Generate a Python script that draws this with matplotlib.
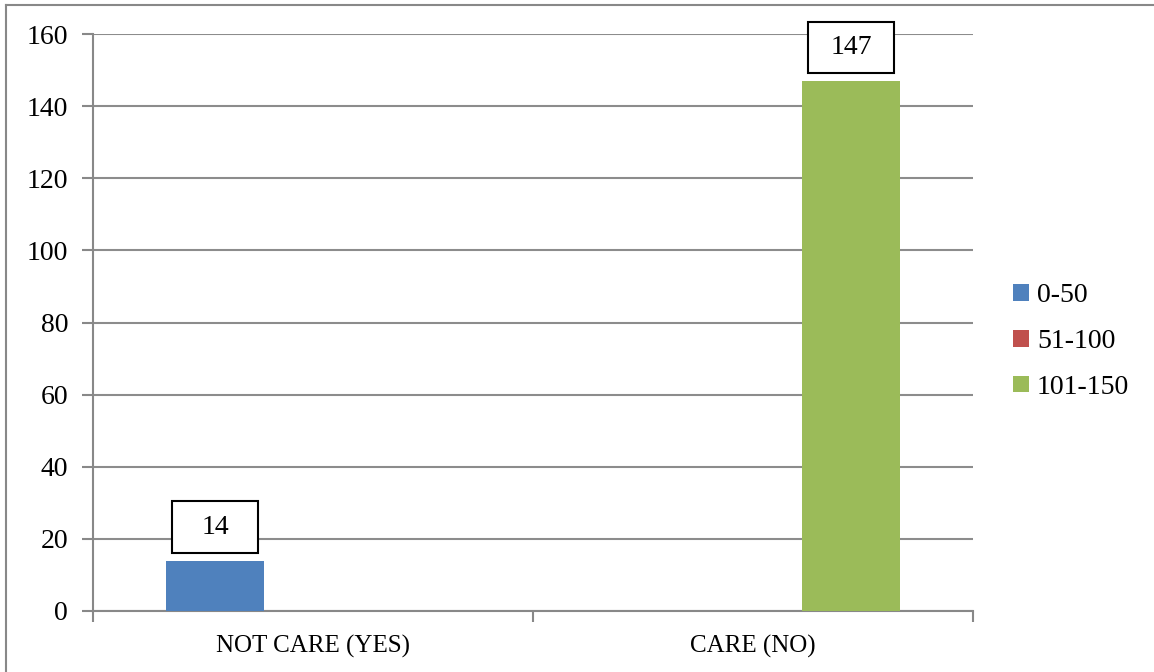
import numpy as np
import matplotlib.pyplot as plt
from matplotlib.patches import Rectangle
from matplotlib.lines import Line2D

#chart data
categories=['NOT CARE (YES)','CARE (NO)']
series=['0-50','51-100','101-150']
values=[[14,0],[0,0],[0,147]]
colors=['#4f81bd','#c0504d','#9bbb59']
labels=[(0,0,14),(2,1,147)]   #series index, category index, value shown in box
yticks=[0,20,40,60,80,100,120,140,160]

plt.rcParams['font.family']=['Liberation Serif','DejaVu Serif']
fig=plt.figure(figsize=(11.54,6.72),dpi=100)
ax=fig.add_axes([93/1154,1-611/672,880/1154,577/672])

x=np.arange(len(categories))
w=0.668/3
for i,s in enumerate(series):
    ax.bar(x+(i-1)*w,values[i],width=w,color=colors[i],label=s,zorder=3)

#value boxes above bars
bw,bh=0.195,14.3
for si,ci,v in labels:
    cx=x[ci]+(si-1)*w
    ax.add_patch(Rectangle((cx-bw/2,v+2.1),bw,bh,facecolor='white',edgecolor='black',
                           lw=1.5,zorder=4,clip_on=False))
    ax.text(cx,v+2.1+bh/2,str(v),ha='center',va='center',fontsize=20,zorder=5,clip_on=False)

ax.set_xlim(-0.5,1.5)
ax.set_ylim(0,160)
ax.set_yticks(yticks)
ax.set_xticks(x)
ax.set_xticklabels(categories,fontsize=18)
ax.set_xticks([-0.5,0.5,1.5],minor=True)
ax.tick_params(axis='x',which='major',length=0,pad=17)
ax.tick_params(axis='x',which='minor',length=8,color='#888888',width=1.5)
ax.tick_params(axis='y',length=8,color='#888888',width=1.5,labelsize=20,pad=10)
ax.yaxis.grid(True,color='#8c8c8c',lw=1.5,zorder=0)
for sp in ['top','right']:
    ax.spines[sp].set_visible(False)
for sp in ['left','bottom']:
    ax.spines[sp].set_color('#888888')
    ax.spines[sp].set_linewidth(1.5)

leg=ax.legend(loc='center left',bbox_to_anchor=(1.03,0.467),frameon=False,fontsize=20,
              handlelength=0.55,handleheight=0.55,handletextpad=0.3,labelspacing=0.75,
              borderpad=0)

#outer frame (left and top only)
fig.add_artist(Line2D([6/1154,6/1154],[0,1-5/672],color='#888888',lw=1.5))
fig.add_artist(Line2D([6/1154,1],[1-5/672,1-5/672],color='#888888',lw=1.5))

plt.savefig('out.png',dpi=100)
